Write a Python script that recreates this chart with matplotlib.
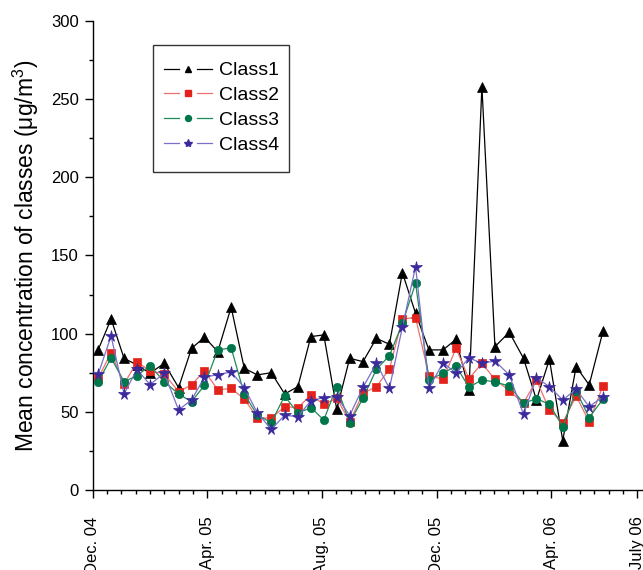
import numpy as np
import pandas as pd
import matplotlib
matplotlib.use("Agg")
import matplotlib.pyplot as plt
from matplotlib.lines import Line2D
from matplotlib.patches import Rectangle
from matplotlib.legend_handler import HandlerBase
from matplotlib.ticker import MultipleLocator, FixedLocator

plt.rcParams['font.family'] = ['Liberation Sans', 'DejaVu Sans']
plt.rcParams['mathtext.fontset'] = 'custom'
plt.rcParams['mathtext.rm'] = 'Liberation Sans'
plt.rcParams['mathtext.default'] = 'regular'

# sampling dates (biweekly)
sample_dates = pd.date_range('2004-12-07', '2006-05-26', periods=39)

class1 = [89.6, 109.4, 84.2, 80.0, 74.7, 81.0, 65.5, 90.6, 97.7, 88.5, 116.9, 77.9, 73.6,
          75.0, 61.4, 66.1, 98.1, 99.2, 51.6, 84.2, 82.1, 97.0, 93.2, 139.0, 113.0,
          89.6, 89.6, 96.4, 64.0, 258.0, 91.7, 100.9, 84.2, 57.6, 83.6, 31.6, 78.9, 67.2, 101.7]
class2 = [71.4, 87.9, 67.8, 81.9, 76.3, 74.2, 62.9, 67.2, 76.3, 64.0, 65.0, 58.2, 46.3,
          45.9, 53.3, 52.7, 60.6, 54.8, 58.7, 43.7, 61.9, 66.1, 77.4, 109.4, 110.3,
          73.1, 70.8, 90.6, 71.2, 81.0, 70.8, 63.5, 55.5, 70.4, 51.2, 43.1, 60.1, 43.7, 66.7]
class3 = [69.1, 84.5, 69.3, 73.1, 79.5, 69.3, 61.4, 56.5, 67.0, 89.6, 90.9, 61.4, 48.0,
          43.1, 60.1, 49.1, 52.7, 44.8, 66.1, 43.1, 58.7, 77.2, 85.9, 106.6, 132.2,
          70.4, 74.7, 79.3, 65.7, 70.4, 69.1, 66.5, 55.5, 58.4, 54.8, 40.5, 63.5, 46.3, 58.2]
class4 = [74.0, 98.5, 61.4, 77.2, 67.4, 74.7, 51.2, 57.6, 72.1, 73.8, 75.5, 65.5, 49.5,
          38.8, 47.8, 46.9, 57.1, 59.1, 59.7, 47.6, 65.7, 81.0, 65.0, 104.1, 142.9,
          65.0, 81.5, 74.7, 84.6, 81.0, 82.5, 73.6, 48.4, 71.8, 66.1, 57.6, 64.4, 53.3, 59.7]

tick_labels = ['Dec. 04', 'Apr. 05', 'Aug. 05', 'Dec. 05', 'Apr. 06', 'July 06']
tick_months = [0, 4, 8, 12, 16, 19]   # months since Dec. 2004

# convert dates to fractional months since Dec 1, 2004
x = np.array([(d.year - 2004) * 12 + (d.month - 12) + (d.day - 1) / d.days_in_month
              for d in sample_dates])


class Entry:
    def __init__(self, lc, mc, mk, ms):
        self.lc, self.mc, self.mk, self.ms = lc, mc, mk, ms


class HandlerGap(HandlerBase):
    """Origin-style legend symbol: line - marker - line, with gaps."""
    def create_artists(self, legend, h, xdescent, ydescent, width, height,
                       fontsize, trans):
        y = height / 2 - ydescent
        x0 = -xdescent
        seg = 0.31 * width
        a1 = Line2D([x0, x0 + seg], [y, y], color=h.lc, lw=0.9)
        a2 = Line2D([x0 + width - seg, x0 + width], [y, y], color=h.lc, lw=0.9)
        a3 = Line2D([x0 + width / 2], [y], lw=0, marker=h.mk, markersize=h.ms,
                    markerfacecolor=h.mc, markeredgecolor=h.mc)
        for a in (a1, a2, a3):
            a.set_transform(trans)
        return [a1, a2, a3]


fig = plt.figure(figsize=(6.43, 5.70), dpi=100)
ax = fig.add_axes([0.1440, 0.1404, 0.8560, 0.8228])

series = [
    ('Class1', class1, '^', '#000000', '#000000', 6.5),
    ('Class2', class2, 's', '#f07070', '#e3231b', 5.5),
    ('Class3', class3, 'o', '#1f8a5a', '#00774a', 6.0),
    ('Class4', class4, '*', '#7b6fc8', '#3a2a9c', 8.5),
]
handles = []
for name, vals, mk, lc, mc, ms in series:
    ax.plot(x, vals, color=lc, lw=0.9, marker=mk, markersize=ms,
            markerfacecolor=mc, markeredgecolor=mc, markeredgewidth=0.5, zorder=3)
    handles.append(Entry(lc, mc, mk, ms * 0.72))

ax.set_xlim(0, 19.2)
ax.set_ylim(0, 300)
ax.xaxis.set_major_locator(FixedLocator(tick_months))
ax.set_xticklabels(tick_labels, rotation=90, va='top', ha='center')
ax.xaxis.set_minor_locator(MultipleLocator(0.5))
ax.yaxis.set_major_locator(MultipleLocator(50))
ax.yaxis.set_minor_locator(MultipleLocator(25))

for s in ['top', 'right']:
    ax.spines[s].set_visible(False)
for s in ['left', 'bottom']:
    ax.spines[s].set_linewidth(1.0)

ax.tick_params(axis='both', which='major', direction='out', length=6, width=1.0,
               labelsize=12, pad=4)
ax.tick_params(axis='both', which='minor', direction='out', length=3, width=1.0)
ax.tick_params(axis='x', which='major', pad=13)

ax.set_ylabel('Mean concentration of classes (μg/m$^{3}$)', fontsize=16.5)
ax.yaxis.set_label_coords(-0.093, 0.5)

# legend frame drawn as a box, entries placed inside it
box = Rectangle((0.1097, 0.678), 0.2471, 0.2708, transform=ax.transAxes,
                facecolor='white', edgecolor='#333333', lw=1.0, zorder=4)
ax.add_patch(box)
leg = ax.legend(handles, [s[0] for s in series],
                handler_map={Entry: HandlerGap()},
                loc='upper left', bbox_to_anchor=(0.1297, 0.913), borderaxespad=0,
                fontsize=14, frameon=False, handlelength=2.47,
                handletextpad=0.36, labelspacing=0.37, borderpad=0)
leg.set_zorder(5)

fig.savefig('out.png', dpi=100)
